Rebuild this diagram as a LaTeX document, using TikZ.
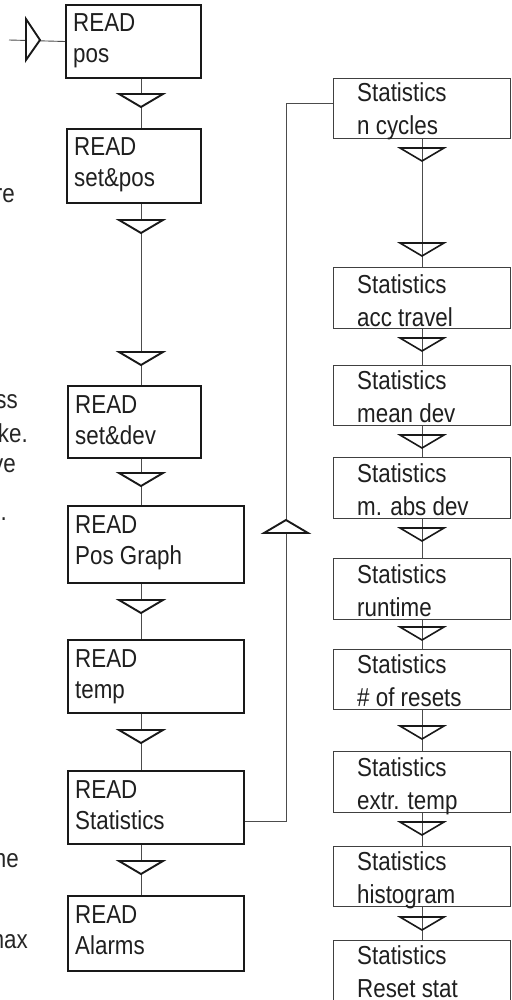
\documentclass[tikz,border=0pt]{standalone}
\usepackage{fontspec}
\setmainfont[FakeStretch=0.86]{Liberation Sans}
\begin{document}
\begin{tikzpicture}[x=1pt,y=-1pt,
  lbox/.style={draw=black!90, line width=2pt, rectangle, inner sep=0pt, anchor=north west},
  rbox/.style={draw=black!75, line width=1.1pt, rectangle, inner sep=0pt, anchor=north west},
  ltxt/.style={anchor=base west, inner sep=0pt, text=black!88, font=\fontsize{26}{31}\selectfont},
  rtxt/.style={anchor=base west, inner sep=0pt, text=black!88, font=\fontsize{26}{33}\selectfont},
  frag/.style={anchor=base east, inner sep=0pt, text=black!85, font=\fontsize{26}{31}\selectfont},
  conn/.style={draw=black!70, line width=0.9pt},
  ltri/.style={draw=black!90, line width=1.9pt, fill=white, line join=miter},
  rtri/.style={draw=black!90, line width=1.6pt, line join=miter}
]
\useasboundingbox (0,0) rectangle (511,1000);
\fill[white] (0,0) rectangle (511,1000);

% column reference coordinates
\coordinate (cx) at (141,0);
\coordinate (rx) at (422,0);

% ---------- left column boxes ----------
\node[lbox, minimum width=135pt, minimum height=73pt] (rp) at (65,4) {};
\node[lbox, minimum width=134pt, minimum height=74pt] (sp) at (66,128) {};
\node[lbox, minimum width=133pt, minimum height=72pt] (sd) at (67,385) {};
\node[lbox, minimum width=176pt, minimum height=77pt] (pg) at (67,505) {};
\node[lbox, minimum width=176pt, minimum height=73pt] (tp) at (67,639) {};
\node[lbox, minimum width=176pt, minimum height=73pt] (st) at (67,770) {};
\node[lbox, minimum width=176pt, minimum height=75pt] (al) at (67,895) {};

\node[ltxt] (rp-t) at (73,32)  {\begin{tabular}[t]{@{}l@{}}READ\\pos\end{tabular}};
\node[ltxt] (sp-t) at (74,156) {\begin{tabular}[t]{@{}l@{}}READ\\set\&pos\end{tabular}};
\node[ltxt] (sd-t) at (75,413) {\begin{tabular}[t]{@{}l@{}}READ\\set\&dev\end{tabular}};
\node[ltxt] (pg-t) at (75,533) {\begin{tabular}[t]{@{}l@{}}READ\\Pos Graph\end{tabular}};
\node[ltxt] (tp-t) at (75,667) {\begin{tabular}[t]{@{}l@{}}READ\\temp\end{tabular}};
\node[ltxt] (st-t) at (75,798) {\begin{tabular}[t]{@{}l@{}}READ\\Statistics\end{tabular}};
\node[ltxt] (al-t) at (75,923) {\begin{tabular}[t]{@{}l@{}}READ\\Alarms\end{tabular}};

% ---------- right column boxes ----------
\node[rbox, minimum width=177pt, minimum height=60pt] (nc) at (333,78) {};
\node[rbox, minimum width=177pt, minimum height=61pt] (ac) at (333,267) {};
\node[rbox, minimum width=177pt, minimum height=60pt] (md) at (333,365) {};
\node[rbox, minimum width=177pt, minimum height=61pt] (ma) at (333,457) {};
\node[rbox, minimum width=177pt, minimum height=61pt] (ru) at (333,558) {};
\node[rbox, minimum width=177pt, minimum height=60pt] (nr) at (333,649) {};
\node[rbox, minimum width=177pt, minimum height=61pt] (et) at (333,751) {};
\node[rbox, minimum width=177pt, minimum height=60pt] (hi) at (333,846) {};
\node[rbox, minimum width=177pt, minimum height=66pt] (rs) at (333,940) {};

\node[rtxt] (nc-t) at (357,102) {\begin{tabular}[t]{@{}l@{}}Statistics\\n cycles\end{tabular}};
\node[rtxt] (ac-t) at (357,293) {\begin{tabular}[t]{@{}l@{}}Statistics\\acc travel\end{tabular}};
\node[rtxt] (md-t) at (357,389) {\begin{tabular}[t]{@{}l@{}}Statistics\\mean dev\end{tabular}};
\node[rtxt] (ma-t) at (357,482) {\begin{tabular}[t]{@{}l@{}}Statistics\\m. abs dev\end{tabular}};
\node[rtxt] (ru-t) at (357,583) {\begin{tabular}[t]{@{}l@{}}Statistics\\runtime\end{tabular}};
\node[rtxt] (nr-t) at (357,673) {\begin{tabular}[t]{@{}l@{}}Statistics\\\# of resets\end{tabular}};
\node[rtxt] (et-t) at (357,776) {\begin{tabular}[t]{@{}l@{}}Statistics\\extr. temp\end{tabular}};
\node[rtxt] (hi-t) at (357,870) {\begin{tabular}[t]{@{}l@{}}Statistics\\histogram\end{tabular}};
\node[rtxt] (rs-t) at (357,964) {\begin{tabular}[t]{@{}l@{}}Statistics\\Reset stat\end{tabular}};

% ---------- left column connectors ----------
\coordinate (ent) at (9,40);
\draw[conn] (ent) -- (rp.west);
\draw[ltri] (26,19) -- (26,60) -- (40,40) -- cycle;

\draw[conn] (rp.south -| cx) -- (sp.north -| cx);
\draw[conn] (sp.south -| cx) -- (sd.north -| cx);
\draw[conn] (sd.south -| cx) -- (pg.north -| cx);
\draw[conn] (pg.south -| cx) -- (tp.north -| cx);
\draw[conn] (tp.south -| cx) -- (st.north -| cx);
\draw[conn] (st.south -| cx) -- (al.north -| cx);

\foreach \ty in {94,220,352,473,600,730,861}
  \draw[ltri] (119,\ty) -- (163,\ty) -- (141,\ty+13) -- cycle;

% ---------- link to statistics column ----------
\coordinate (sy) at (0,821);
\coordinate (ny) at (0,103);
\draw[conn] (st.east |- sy) -- (286,821) -- (286,103) -- (nc.west |- ny);
\draw[ltri] (264,533) -- (308,533) -- (286,520) -- cycle;

% ---------- right column connectors ----------
\draw[conn] (nc.south -| rx) -- (ac.north -| rx);
\draw[conn] (ac.south -| rx) -- (md.north -| rx);
\draw[conn] (md.south -| rx) -- (ma.north -| rx);
\draw[conn] (ma.south -| rx) -- (ru.north -| rx);
\draw[conn] (ru.south -| rx) -- (nr.north -| rx);
\draw[conn] (nr.south -| rx) -- (et.north -| rx);
\draw[conn] (et.south -| rx) -- (hi.north -| rx);
\draw[conn] (hi.south -| rx) -- (rs.north -| rx);

\foreach \ty in {148,243,338,435,528,627,726,822,917}
  \draw[rtri] (400,\ty) -- (444,\ty) -- (422,\ty+13) -- cycle;

% ---------- cut-off text fragments at the left edge ----------
\node[frag] (f1) at (15,203) {re};
\node[frag] (f2) at (18,408) {ss};
\node[frag] (f3) at (28,442) {ke.};
\node[frag] (f4) at (16,472) {ve};
\node[frag] (f5) at (7,520) {.};
\node[frag] (f6) at (19,867) {ne};
\node[frag] (f7) at (28,948) {max};
\end{tikzpicture}
\end{document}
